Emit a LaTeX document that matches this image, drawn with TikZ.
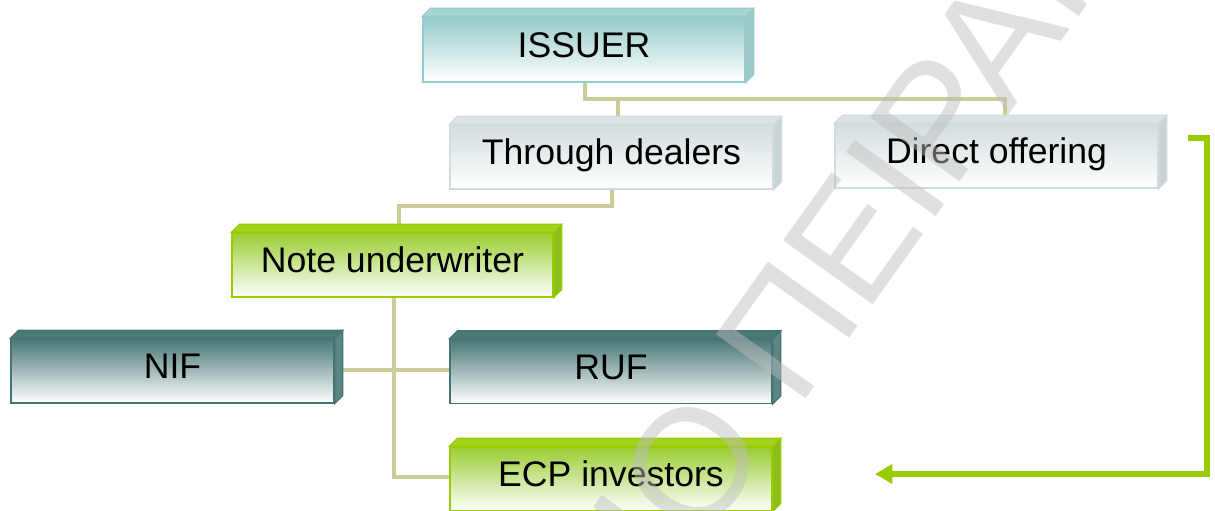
\documentclass[tikz,border=0pt]{standalone}
\usepackage{fontspec}
\setmainfont{Liberation Sans}
\usetikzlibrary{arrows.meta,calc}
\pgfdeclarelayer{bg}
\pgfdeclarelayer{fg}
\pgfsetlayers{bg,main,fg}
\definecolor{issT}{HTML}{95CBC9}
\definecolor{issM}{HTML}{CDE6E5}
\definecolor{issB}{HTML}{96CCCB}
\definecolor{issTop}{HTML}{A6D5D3}
\definecolor{issSide}{HTML}{A0C8C7}
\definecolor{gryT}{HTML}{D3DDDF}
\definecolor{gryM}{HTML}{E9EFF0}
\definecolor{gryB}{HTML}{D0DCDE}
\definecolor{gryTop}{HTML}{DAE3E5}
\definecolor{grySide}{HTML}{C8D4D6}
\definecolor{grnT}{HTML}{9ACD32}
\definecolor{grnM}{HTML}{CDE59A}
\definecolor{grnB}{HTML}{99CC00}
\definecolor{grnTop}{HTML}{A2D21F}
\definecolor{grnSide}{HTML}{8DBF1A}
\definecolor{drkT}{HTML}{487775}
\definecolor{drkM}{HTML}{A8BEBD}
\definecolor{drkB}{HTML}{457371}
\definecolor{drkTop}{HTML}{4A7876}
\definecolor{drkSide}{HTML}{5A8584}
\definecolor{tan}{HTML}{CCCC99}
\definecolor{arrowgreen}{HTML}{99CC00}
\definecolor{wmgray}{HTML}{BEBEBE}
\tikzset{
  box/.style={draw, line width=1.1pt, minimum width=241.5pt, minimum height=48pt,
    inner sep=0pt, text height=19pt, text depth=7.5pt,
    font=\fontsize{26.7}{32}\selectfont},
  issbox/.style={box, draw=issB, top color=issT, middle color=issM, bottom color=white},
  grybox/.style={box, draw=gryB, top color=gryT, middle color=gryM, bottom color=white},
  grnbox/.style={box, draw=grnB, top color=grnT, middle color=grnM, bottom color=white},
  drkbox/.style={box, draw=drkB, top color=drkT, middle color=drkM, bottom color=white},
  conn/.style={draw=tan, line width=3.6pt, line join=miter},
  garrow/.style={draw=arrowgreen, line width=4.2pt, line join=miter,
    -{Triangle[length=13pt,width=14pt]}},
  wm/.style={inner sep=0pt, text=wmgray, text opacity=0.47,
    font=\fontsize{120}{144}\selectfont},
}
\newcommand\bevelbox[4]{%
  \filldraw[fill=#2, draw=#4, line width=0.8pt] (#1.north west) -- ++(6pt,6pt) -- ($(#1.north east)+(6pt,6pt)$) -- (#1.north east) -- cycle;
  \filldraw[fill=#3, draw=#4, line width=0.8pt] (#1.north east) -- ++(6pt,6pt) -- ($(#1.south east)+(6pt,6pt)$) -- (#1.south east) -- cycle;
}
\begin{document}
\begin{tikzpicture}[x=0.75pt,y=-0.75pt]
\useasboundingbox (0,0) rectangle (1215,511);
\begin{pgfonlayer}{bg}
\fill[white] (0,0) rectangle (1215,511);
\end{pgfonlayer}
% nodes
\node[issbox, minimum width={322*0.75pt}, minimum height={65*0.75pt}] (issuer) at (584,49.5) {ISSUER};
\node[grybox, minimum width={323*0.75pt}] (dealers) at (611.5,157) {Through dealers};
\node[grybox, minimum width={323*0.75pt}] (direct) at (996.5,156) {Direct offering};
\node[grnbox, minimum width={321*0.75pt}] (under) at (392.5,265) {Note underwriter};
\node[drkbox, minimum width={323*0.75pt}] (nif) at (172.5,371) {NIF};
\node[drkbox, minimum width={322*0.75pt}] (ruf) at (611,371.5) {RUF};
\node[grnbox, minimum width={322*0.75pt}] (ecp) at (611,479) {ECP investors};
% bevels
\bevelbox{issuer}{issTop}{issSide}{issB}
\bevelbox{dealers}{gryTop}{grySide}{gryB}
\bevelbox{direct}{gryTop}{grySide}{gryB}
\bevelbox{under}{grnTop}{grnSide}{grnB}
\bevelbox{nif}{drkTop}{drkSide}{drkB}
\bevelbox{ruf}{drkTop}{drkSide}{drkB}
\bevelbox{ecp}{grnTop}{grnSide}{grnB}
% connectors
\coordinate (j1) at (585,99);
\coordinate (j2) at (1005,99);
\coordinate (j3) at (618,99);
\coordinate (j4) at (612,206);
\coordinate (j5) at (399,206);
\coordinate (j6) at (394,477);
\coordinate (j7) at (394,370);
\coordinate (arrS) at (1188,138);
\coordinate (arrC1) at (1207,138);
\coordinate (arrC2) at (1207,474);
\coordinate (arrE) at (875,474);
\begin{pgfonlayer}{bg}
\draw[conn] (issuer.south -| j1) -- (j1) -- (j2) -- (direct.north -| j2);
\draw[conn] (j3) -- (dealers.north -| j3);
\draw[conn] (dealers.south -| j4) -- (j4) -- (j5) -- (under.north -| j5);
\draw[conn] (under.south -| j6) -- (j6) -- (ecp.west |- j6);
\draw[conn] (nif.east |- j7) -- (ruf.west |- j7);
\end{pgfonlayer}
\draw[garrow] (arrS) -- (arrC1) -- (arrC2) -- (arrE);
% watermark
\begin{pgfonlayer}{fg}
\begin{scope}
\clip (0,0) rectangle (1215,511);
\node[wm, rotate=54.5, anchor=base west] (wmark) at (798,410) {\llap{ΠΑΝΕΠΙΣΤΗΜΙΟ\ }ΠΕΙΡΑΙΑ};
\end{scope}
\end{pgfonlayer}
\end{tikzpicture}
\end{document}
